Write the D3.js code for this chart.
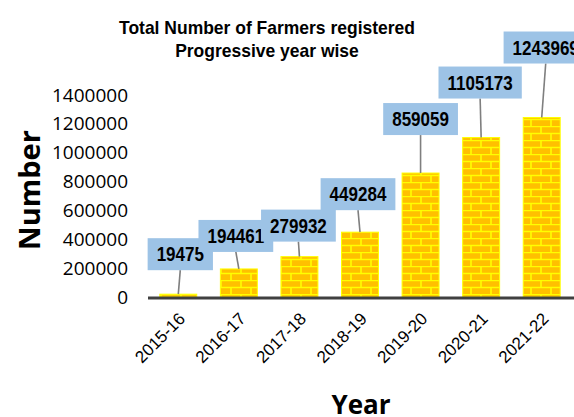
<!DOCTYPE html>
<html>
<head>
<meta charset="utf-8">
<script src="https://cdn.jsdelivr.net/npm/d3@7"></script>
<style>
  body { margin: 0; background: #fff; }
</style>
</head>
<body>
<div id="chart"></div>
<script>
// data
var years = ["2015-16", "2016-17", "2017-18", "2018-19", "2019-20", "2020-21", "2021-22"];
var farmers = [19475, 194461, 279932, 449284, 859059, 1105173, 1243969];
var yTicks = [0, 200000, 400000, 600000, 800000, 1000000, 1200000, 1400000];

// how far each callout box sits above its bar (px)
var labelLift = [24, 17, 15, 22, 38, 39, 54];
var labelShift = [2, -3, -1, -2, 0, -1, 4];

var W = 574, H = 417;
var svg = d3.select("#chart")
  .append("svg")
    .attr("width", W)
    .attr("height", H);

// squeeze bold Arial-like text so it looks like a narrow face
function squeeze(sel, k) {
  sel.each(function() {
    var n = d3.select(this);
    var len = this.getComputedTextLength();
    n.attr("textLength", len * k).attr("lengthAdjust", "spacingAndGlyphs");
  });
}

// brick pattern for the bars
var defs = svg.append("defs");
var pat = defs.append("pattern")
    .attr("id", "brick")
    .attr("patternUnits", "userSpaceOnUse")
    .attr("width", 20)
    .attr("height", 14);
pat.append("rect").attr("width", 20).attr("height", 14).attr("fill", "#FFC000");
pat.append("path")
    .attr("d", "M0,0.5H20M0,7.5H20M1,0V7M11,7V14")
    .attr("stroke", "#FFFF00")
    .attr("stroke-width", 1.6)
    .attr("fill", "none");

var x = d3.scaleBand()
    .domain(years)
    .range([148, 572])
    .paddingInner(0.39)
    .paddingOuter(0.195);

var y = d3.scaleLinear()
    .domain([0, 1400000])
    .range([297, 95]);

// title
var title = svg.append("g")
    .style("font-family", "'Liberation Sans', Arial, sans-serif")
    .style("font-weight", "bold")
    .style("font-size", "19px");
title.append("text").attr("x", 267).attr("y", 34).attr("text-anchor", "middle")
    .text("Total Number of Farmers registered");
title.append("text").attr("x", 267).attr("y", 57).attr("text-anchor", "middle")
    .text("Progressive year wise");
squeeze(title.selectAll("text"), 0.92);

// y axis (labels only)
var yAxis = svg.append("g")
    .attr("transform", "translate(138,0)")
    .call(d3.axisLeft(y).tickValues(yTicks).tickSize(0).tickPadding(10).tickFormat(d3.format("d")));
yAxis.select(".domain").remove();
yAxis.selectAll("text")
    .style("font-family", "'Open Sans', sans-serif")
    .style("font-size", "19px")
    .attr("fill", "#000");

// bars
svg.append("g")
  .selectAll("rect")
  .data(farmers)
  .enter()
  .append("rect")
    .attr("x", function(d, i) { return x(years[i]); })
    .attr("y", function(d) { return y(d); })
    .attr("width", x.bandwidth())
    .attr("height", function(d) { return y(0) - y(d); })
    .attr("fill", "url(#brick)")
    .attr("stroke", "#FFFF00")
    .attr("stroke-width", 1);

// x axis
var xAxis = svg.append("g")
    .attr("transform", "translate(0," + 298 + ")")
    .call(d3.axisBottom(x).tickSize(0).tickPadding(8));
xAxis.select(".domain")
    .attr("d", "M148,0H574")
    .attr("stroke", "#404040")
    .attr("stroke-width", 3);
xAxis.selectAll("text")
    .style("font-family", "'Liberation Sans', Arial, sans-serif")
    .style("font-size", "17px")
    .attr("fill", "#000")
    .attr("text-anchor", "end")
    .attr("dy", "0.35em")
    .attr("transform", "translate(-2,12) rotate(-45)");

// callouts
var lab = svg.append("g")
    .style("font-family", "'Liberation Sans', Arial, sans-serif")
    .style("font-weight", "bold")
    .style("font-size", "21px");

farmers.forEach(function(d, i) {
  var cx = x(years[i]) + x.bandwidth() / 2;
  var top = y(d);
  var boxBottom = top - labelLift[i];
  var bx = cx + labelShift[i];
  lab.append("line")
      .attr("x1", bx).attr("y1", boxBottom)
      .attr("x2", cx).attr("y2", top)
      .attr("stroke", "#7F7F7F")
      .attr("stroke-width", 1.6);
});

farmers.forEach(function(d, i) {
  var cx = x(years[i]) + x.bandwidth() / 2;
  var top = y(d);
  var boxBottom = top - labelLift[i];
  var bx = cx + labelShift[i];
  var t = lab.append("text")
      .attr("x", bx)
      .attr("y", boxBottom - 9)
      .attr("text-anchor", "middle")
      .attr("fill", "#000")
      .text(d);
  squeeze(t, 0.81);
  var w = +t.attr("textLength") + 18;
  lab.insert("rect", function() { return t.node(); })
      .attr("x", bx - w / 2)
      .attr("y", boxBottom - 32)
      .attr("width", w)
      .attr("height", 32)
      .attr("fill", "#9DC3E6");
});

// axis titles
svg.append("text")
    .attr("transform", "translate(40,190) rotate(-90)")
    .attr("text-anchor", "middle")
    .style("font-family", "'Open Sans', sans-serif")
    .style("font-weight", "bold")
    .style("font-size", "29px")
    .text("Number");

svg.append("text")
    .attr("x", 361)
    .attr("y", 414)
    .attr("text-anchor", "middle")
    .style("font-family", "'Open Sans', sans-serif")
    .style("font-weight", "bold")
    .style("font-size", "26px")
    .text("Year");
</script>
</body>
</html>
